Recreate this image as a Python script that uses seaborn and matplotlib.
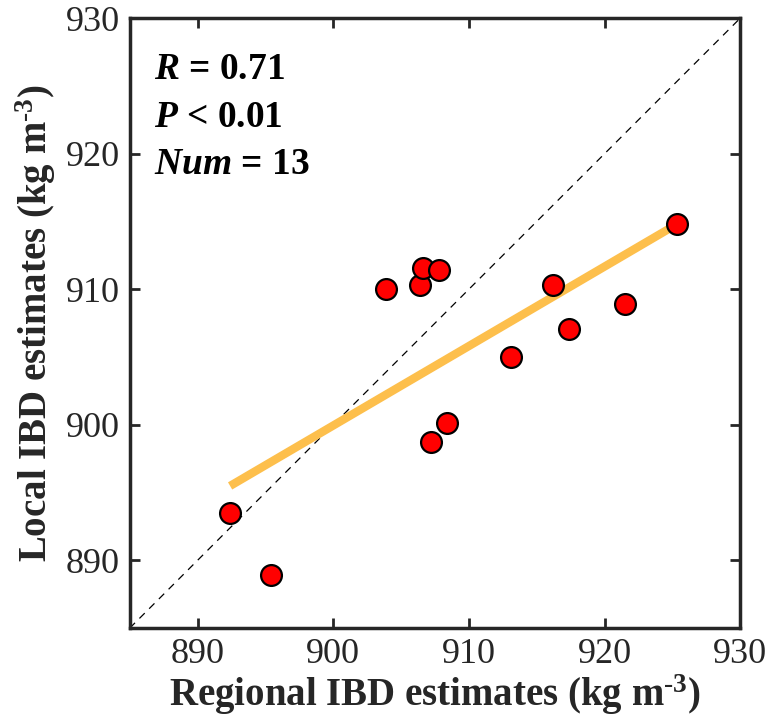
import numpy as np
import pandas as pd
import matplotlib
matplotlib.use("Agg")
import matplotlib.pyplot as plt
import seaborn as sns

regional = [892.4, 895.4, 903.9, 906.4, 906.6, 907.8, 907.2, 908.4, 913.1, 916.2, 917.4, 921.5, 925.3]
local = [893.5, 888.9, 910.0, 910.3, 911.6, 911.4, 898.7, 900.1, 905.0, 910.3, 907.1, 908.9, 914.8]
ticks = [890, 900, 910, 920, 930]

df = pd.DataFrame({"regional": regional, "local": local})

sns.set_theme(style="white")
plt.rcParams["font.family"] = ["Liberation Serif", "DejaVu Serif"]
plt.rcParams["mathtext.fontset"] = "custom"
plt.rcParams["mathtext.rm"] = "Liberation Serif"
plt.rcParams["mathtext.it"] = "Liberation Serif:italic"
plt.rcParams["mathtext.bf"] = "Liberation Serif:bold"
plt.rcParams["mathtext.bfit"] = "Liberation Serif:italic:bold"

fig = plt.figure(figsize=(7.72, 7.22), dpi=100)
ax = fig.add_axes([0.168, 0.130, 0.791, 0.845])

ax.plot([885, 930], [885, 930], ls=(0, (6, 5)), color="black", lw=0.9, zorder=1)
sns.regplot(data=df, x="regional", y="local", scatter=False, ci=None, ax=ax,
            line_kws={"color": "#FDBF4C", "lw": 6, "solid_capstyle": "butt", "zorder": 2})
sns.scatterplot(data=df, x="regional", y="local", ax=ax, s=225, color="#FF0000",
                edgecolor="black", linewidth=1.6, zorder=3, legend=False)

ax.set_xlim(885, 930)
ax.set_ylim(885, 930)
ax.set_xticks(ticks)
ax.set_yticks(ticks)
ax.tick_params(direction="in", length=7, width=2, labelsize=26, color="#262626",
               top=True, right=True, bottom=True, left=True, labelcolor="#262626", pad=7)
for s in ax.spines.values():
    s.set_linewidth(2.5)
    s.set_color("#262626")
    s.set_visible(True)

ax.set_xlabel("Regional IBD estimates (kg m$^{\\mathbf{\\text{-}3}}$)", fontsize=28, fontweight="bold", color="#262626", labelpad=1)
ax.set_ylabel("Local IBD estimates (kg m$^{\\mathbf{\\text{-}3}}$)", fontsize=28, fontweight="bold", color="#262626", labelpad=6)

txt_kw = dict(transform=ax.transAxes, fontsize=27, fontweight="bold", color="black", va="center", ha="left")
ax.text(0.04, 0.915, "$\\mathbfit{R}$ = 0.71", **txt_kw)
ax.text(0.04, 0.837, "$\\mathbfit{P}$ < 0.01", **txt_kw)
ax.text(0.04, 0.760, "$\\mathbfit{Num}$ = 13", **txt_kw)

fig.savefig("out.png", dpi=100)
